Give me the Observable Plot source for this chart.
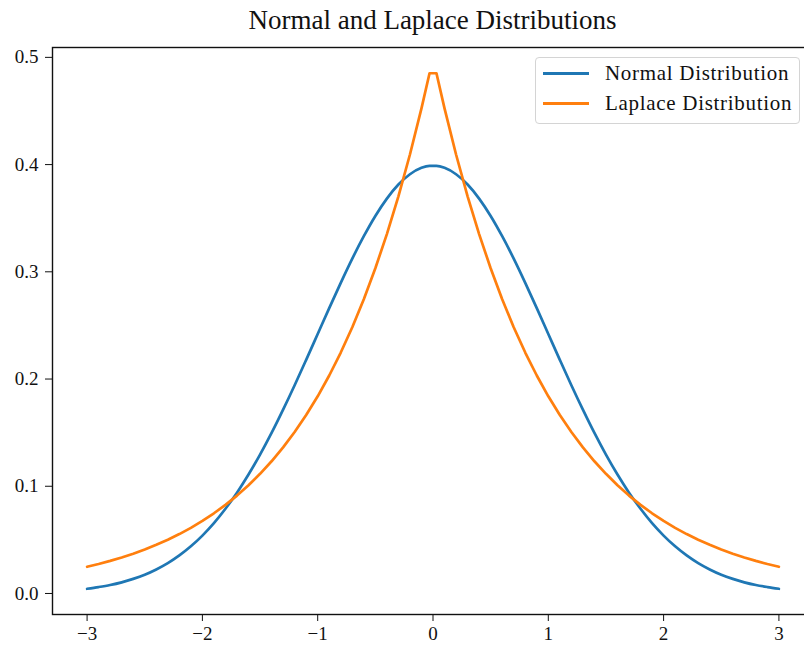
<!DOCTYPE html>
<html>
<head>
<meta charset="utf-8">
<script src="https://cdn.jsdelivr.net/npm/d3@7"></script>
<script src="https://cdn.jsdelivr.net/npm/@observablehq/plot@0.6"></script>
<style>
  html, body { margin: 0; padding: 0; background: white; overflow: hidden; }
  #wrap { position: relative; width: 804px; height: 649px; overflow: hidden; font-family: "Liberation Serif", "DejaVu Serif", serif; }
  #title { position: absolute; left: 0; top: 7px; width: 865px; text-align: center; font-size: 27px; line-height: 1; color: #111; }
  #legend { position: absolute; left: 535px; top: 57px; width: 263px; height: 65px; border: 1px solid #d4d4d4; border-radius: 4px; background: rgba(255,255,255,0.85); }
  .sw { position: absolute; left: 7px; width: 46px; height: 3px; }
  .lt { position: absolute; left: 69px; font-size: 21px; line-height: 22px; letter-spacing: 0.7px; color: #111; white-space: nowrap; }
  #chart { position: absolute; left: 0; top: 0; width: 814px; height: 649px; }
  #chart svg { max-width: none !important; }
</style>
</head>
<body>
<div id="wrap">
  <div id="chart"></div>
  <div id="title">Normal and Laplace Distributions</div>
  <div id="legend"></div>
</div>
<script>
// x sample positions
const xs = [-3.0,-2.9,-2.8,-2.7,-2.6,-2.5,-2.4,-2.3,-2.2,-2.1,-2.0,-1.9,-1.8,-1.7,-1.6,-1.5,-1.4,-1.3,-1.2,-1.1,-1.0,-0.9,-0.8,-0.7,-0.6,-0.5,-0.4,-0.3,-0.2,-0.1,-0.03,
            0.03,0.1,0.2,0.3,0.4,0.5,0.6,0.7,0.8,0.9,1.0,1.1,1.2,1.3,1.4,1.5,1.6,1.7,1.8,1.9,2.0,2.1,2.2,2.3,2.4,2.5,2.6,2.7,2.8,2.9,3.0];
// Normal distribution density values read at xs
const normalVals = [0.0044,0.0060,0.0079,0.0104,0.0136,0.0175,0.0224,0.0283,0.0355,0.0440,0.0540,0.0656,0.0790,0.0940,0.1109,0.1295,0.1497,0.1714,0.1942,0.2179,0.2420,0.2661,0.2897,0.3123,0.3332,0.3521,0.3683,0.3814,0.3910,0.3970,0.3988,
                    0.3988,0.3970,0.3910,0.3814,0.3683,0.3521,0.3332,0.3123,0.2897,0.2661,0.2420,0.2179,0.1942,0.1714,0.1497,0.1295,0.1109,0.0940,0.0790,0.0656,0.0540,0.0440,0.0355,0.0283,0.0224,0.0175,0.0136,0.0104,0.0079,0.0060,0.0044];
// Laplace distribution density values read at xs
const laplaceVals = [0.0249,0.0275,0.0304,0.0336,0.0371,0.0410,0.0454,0.0501,0.0554,0.0612,0.0677,0.0748,0.0826,0.0913,0.1009,0.1116,0.1233,0.1363,0.1506,0.1664,0.1839,0.2033,0.2247,0.2483,0.2744,0.3033,0.3352,0.3704,0.4094,0.4524,0.4852,
                     0.4852,0.4524,0.4094,0.3704,0.3352,0.3033,0.2744,0.2483,0.2247,0.2033,0.1839,0.1664,0.1506,0.1363,0.1233,0.1116,0.1009,0.0913,0.0826,0.0748,0.0677,0.0612,0.0554,0.0501,0.0454,0.0410,0.0371,0.0336,0.0304,0.0275,0.0249];
const seriesNames = ["Normal Distribution", "Laplace Distribution"];
const seriesColors = ["#1f77b4", "#ff7f0e"];
const xTicks = [-3,-2,-1,0,1,2,3];
const yTicks = [0.0,0.1,0.2,0.3,0.4,0.5];

const data = xs.map((x, i) => ({x, normal: normalVals[i], laplace: laplaceVals[i]}));

const chart = Plot.plot({
  width: 814,
  height: 649,
  marginTop: 47,
  marginBottom: 35,
  marginLeft: 52,
  marginRight: 1,
  style: {fontFamily: "Liberation Serif, DejaVu Serif, serif", fontSize: "19px", color: "#111", background: "transparent", maxWidth: "none"},
  x: {domain: [-3.3, 3.3], ticks: xTicks, tickSize: 7, tickPadding: 5, label: null,
      tickFormat: d => (d < 0 ? "\u2212" + Math.abs(d) : String(d))},
  y: {domain: [-0.0196, 0.5092], ticks: yTicks, tickSize: 7, tickPadding: 7, label: null,
      tickFormat: d3.format(".1f")},
  marks: [
    Plot.line(data, {x: "x", y: "normal", stroke: seriesColors[0], strokeWidth: 2.7, curve: "monotone-x"}),
    Plot.line(data, {x: "x", y: "laplace", stroke: seriesColors[1], strokeWidth: 2.7}),
    Plot.frame({stroke: "#111", strokeWidth: 1.4})
  ]
});
document.getElementById("chart").appendChild(chart);

const legend = document.getElementById("legend");
seriesNames.forEach((name, i) => {
  const sw = document.createElement("div");
  sw.className = "sw";
  sw.style.top = (14 + i * 30) + "px";
  sw.style.background = seriesColors[i];
  legend.appendChild(sw);
  const t = document.createElement("div");
  t.className = "lt";
  t.style.top = (4 + i * 30) + "px";
  t.textContent = name;
  legend.appendChild(t);
});
</script>
</body>
</html>
